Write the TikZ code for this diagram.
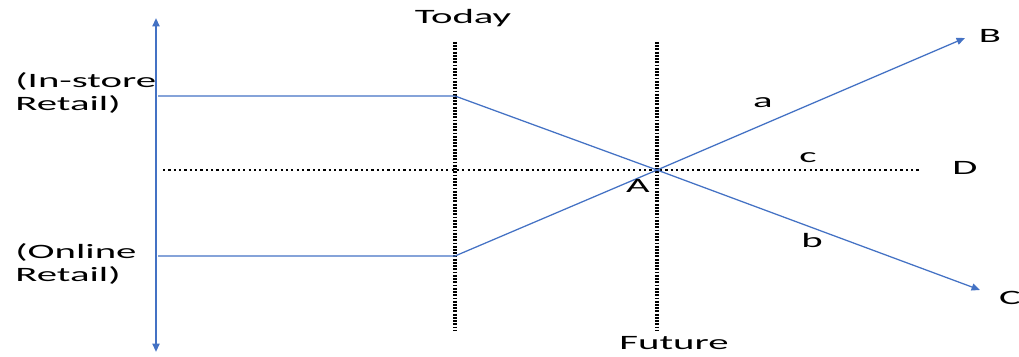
\documentclass[tikz,border=0pt]{standalone}
\usepackage{fontspec}
\setmainfont{Carlito}
\usetikzlibrary{arrows.meta}

\definecolor{lineblue}{RGB}{68,114,196}

\begin{document}
\begin{tikzpicture}[x=0.025cm,y=0.025cm,
    every node/.style={font=\fontsize{14.5}{16.5}\selectfont,xscale=2,inner sep=1pt},
    trend/.style={draw=lineblue,line width=0.9pt},
    timeline/.style={draw=black,line width=2.6pt,dash pattern=on 1.3pt off 1pt},
    baseline/.style={draw=black,line width=1.4pt,dash pattern=on 1.6pt off 2.2pt},
    tip/.style={-{Triangle[length=6pt,width=5pt]}}]
  \useasboundingbox (0,0) rectangle (1019,356);
  % axis and time marks
  \coordinate (top) at (156,338);
  \coordinate (bot) at (156,4);
  \coordinate (store0) at (158,260);
  \coordinate (online0) at (158,100);
  \coordinate (store1) at (455,260);
  \coordinate (online1) at (455,100);
  \coordinate (A) at (657,186);
  \coordinate (Bend) at (965,318);
  \coordinate (Cend) at (980,66);
  \coordinate (dl) at (163,186);
  \coordinate (dr) at (920,186);
  \draw[lineblue,line width=1.4pt,{Triangle[length=6pt,width=5pt]}-{Triangle[length=6pt,width=5pt]}] (top) -- (bot);
  \draw[timeline] (455,314) coordinate (today0) -- (455,26) coordinate (today1);
  \draw[timeline] (657,314) coordinate (future0) -- (657,26) coordinate (future1);
  \draw[baseline] (dl) -- (dr);
  % the two paths through A
  \draw[trend] (store0) -- (store1) -- (A);
  \draw[trend,tip] (A) -- (Cend);
  \draw[trend] (online0) -- (online1) -- (A);
  \draw[trend,tip] (A) -- (Bend);
  % labels
  \node[align=left,anchor=west] (instore) at (12,263) {(In-store\\Retail)};
  \node[align=left,anchor=west] (online) at (12,92) {(Online\\Retail)};
  \node (today) at (463,338) {Today};
  \node (future) at (674,13) {Future};
  \node (lA) at (638,170) {A};
  \node (la) at (763,253) {a};
  \node (lb) at (812,116) {b};
  \node (lc) at (808,198) {c};
  \node (lB) at (990,320) {B};
  \node (lC) at (1010,58) {C};
  \node (lD) at (965,188) {D};
\end{tikzpicture}
\end{document}
